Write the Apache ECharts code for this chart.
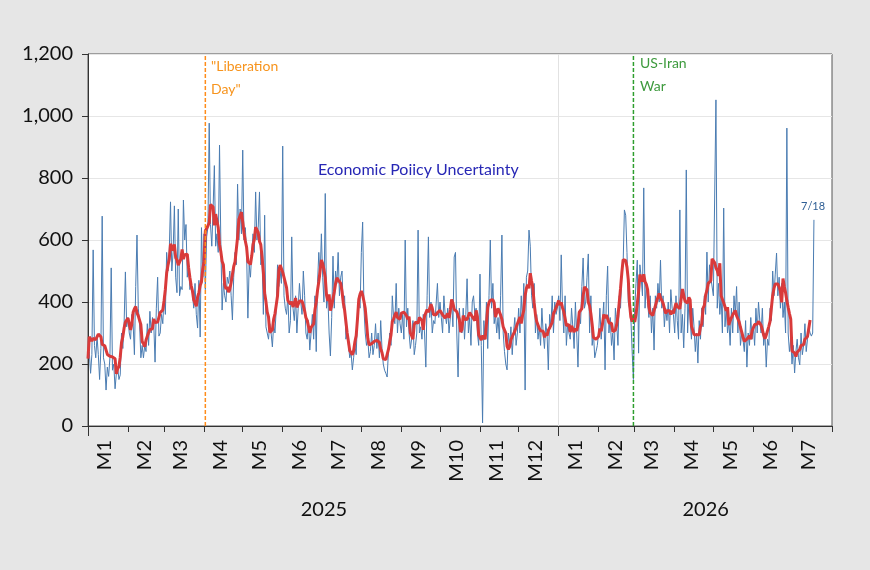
<!DOCTYPE html>
<html>
<head>
<meta charset="utf-8">
<script src="https://cdn.jsdelivr.net/npm/echarts@6/dist/echarts.min.js"></script>
<style>
html,body{margin:0;padding:0;background:#e6e6e6;}
#chart{width:870px;height:570px;}
</style>
</head>
<body>
<div id="chart"></div>
<script>
// daily EPU index
var jan25 = [230,240,170,230,568,260,220,290,230,150,250,677,220,200,116,190,160,220,510,180,200,120,170,190,150,165,300,250,330,497,320];
var feb25 = [350,300,280,360,330,230,450,616,380,330,220,260,220,260,240,330,260,370,300,350,330,206,380,480,290,300,360,330];
var mar25 = [420,360,560,500,560,723,500,560,710,480,430,700,420,450,440,729,600,650,480,520,440,460,430,380,460,360,316,470,287,640,480];
var apr25 = [620,440,610,640,977,650,580,700,840,580,620,560,906,600,374,460,420,400,480,460,500,420,342,480,560,520,780,600,700,620];
var may25 = [890,600,640,560,348,520,480,560,620,560,755,600,640,755,520,540,360,680,320,300,280,330,300,255,330,300,380,520,450,500,460];
var jun25 = [903,420,380,360,420,300,340,610,380,340,420,300,380,460,400,360,500,420,300,280,340,245,300,360,280,420,240,460,560,480];
var jul25 = [620,480,400,750,380,420,300,226,350,548,380,500,460,560,420,480,500,380,420,280,300,260,220,240,181,220,260,230,350,420,380];
var aug25 = [560,658,380,300,260,280,220,240,300,230,260,330,250,300,220,340,250,200,180,170,158,240,300,260,420,350,330,460,300,380,330];
var sep25 = [300,360,280,600,320,380,300,250,280,340,230,260,300,632,300,320,280,360,300,190,420,610,350,400,300,340,330,330,460,350];
var oct25 = [400,350,300,420,360,330,380,300,350,400,320,545,560,300,158,380,320,300,380,280,360,475,300,350,260,400,420,360,380,300,260];
var nov25 = [490,260,10,340,280,400,250,420,600,380,460,330,360,300,350,280,420,616,300,240,200,181,300,260,320,230,300,350,260,300];
var dec25 = [380,300,420,340,460,116,480,500,632,580,420,380,460,300,360,280,320,260,380,300,250,330,300,181,360,320,420,300,400,360,380];
var jan26 = [420,340,552,380,300,420,260,330,300,280,380,320,250,400,300,190,360,330,450,542,380,400,480,555,300,420,260,300,220,240,260];
var feb26 = [300,380,280,340,400,181,420,516,300,350,260,300,213,380,330,260,420,380,500,520,697,680,560,400,380,350,240,150];
var mar26 = [380,460,535,235,520,480,420,768,380,460,400,350,420,300,380,245,420,380,460,400,535,380,420,320,380,340,400,300,440,380,360];
var apr26 = [300,420,340,280,697,300,360,252,380,826,300,400,340,280,380,320,240,300,203,340,280,380,320,420,360,561,400,520,480,480];
var may26 = [420,420,1052,380,460,360,420,300,703,320,380,300,340,260,380,300,420,360,450,300,400,260,300,280,240,340,190,300,260,350,280];
var jun26 = [320,260,380,300,400,340,300,380,260,300,190,280,260,380,340,500,420,490,558,420,480,380,460,350,400,300,961,300,240,280];
var jul26 = [200,260,171,240,280,220,197,300,230,260,330,240,280,320,300,290,300,665];

var yearLabels = ['2025', '2026'];
var yearLabelDays = ['2025-07-03', '2026-04-25'];
var liberationDay = '2025-04-02';
var iranWar = '2026-02-28';

var epu = [].concat(jan25, feb25, mar25, apr25, may25, jun25, jul25, aug25, sep25, oct25, nov25, dec25,
    jan26, feb26, mar26, apr26, may26, jun26, jul26);

// axis runs Jan 1 2025 .. Aug 1 2026
var dates = [];
for (var i = 0; i <= 577; i++) {
    dates.push(new Date(Date.UTC(2025, 0, 1 + i)).toISOString().slice(0, 10));
}

// 7 day centred moving average
var ma = [];
for (var i = 0; i < epu.length; i++) {
    if (i + 3 >= epu.length) { ma.push(null); continue; }
    var s = 0, n = 0;
    for (var k = i - 3; k <= i + 3; k++) {
        if (k >= 0) { s += epu[k]; n++; }
    }
    ma.push(Math.round(s / n * 10) / 10);
}

var Y_MAX = 1200;

// vertical dashed event line spanning the whole value axis
function eventSeries(name, day, color) {
    return {
        name: name,
        type: 'line',
        data: [[day, 0], [day, Y_MAX]],
        showSymbol: false,
        silent: true,
        lineStyle: { color: color, type: [4, 2], width: 1.5 },
        itemStyle: { color: color },
        z: 4
    };
}

var chart = echarts.init(document.getElementById('chart'));
var option = {
    backgroundColor: '#e6e6e6',
    animation: false,
    textStyle: { fontFamily: 'Lato' },
    grid: { left: 88, right: 38, top: 54, bottom: 144, show: true, backgroundColor: '#fff', borderColor: '#555', borderWidth: 1 },
    xAxis: [{
        type: 'category',
        data: dates,
        boundaryGap: false,
        axisLine: { lineStyle: { color: '#333' } },
        axisTick: { interval: function (i, v) { return v.slice(8) === '01'; }, length: 6, lineStyle: { color: '#333' } },
        axisLabel: {
            interval: function (i, v) { return v.slice(8) === '14'; },
            rotate: 90, margin: 14, fontSize: 20, color: '#111',
            formatter: function (v) { return 'M' + parseInt(v.slice(5, 7), 10); }
        },
        splitLine: { show: true, interval: function (i, v) { return v === '2026-01-01'; }, lineStyle: { color: '#e2e2e2' } }
    }, {
        type: 'category',
        data: dates,
        boundaryGap: false,
        position: 'bottom',
        axisLine: { show: false },
        axisTick: { interval: function (i, v) { return v.slice(5) === '01-01'; }, length: 10, lineStyle: { color: '#333' } },
        axisLabel: {
            interval: function (i, v) { return yearLabelDays.indexOf(v) >= 0; },
            margin: 74, fontSize: 20, color: '#111',
            formatter: function (v) { return yearLabels[yearLabelDays.indexOf(v)]; }
        },
        splitLine: { show: false }
    }],
    yAxis: {
        type: 'value',
        min: 0, max: Y_MAX, interval: 200,
        axisLine: { show: true, lineStyle: { color: '#333' } },
        axisTick: { show: true, length: 6, lineStyle: { color: '#333' } },
        axisLabel: { fontSize: 20, color: '#111', margin: 15, formatter: function (v) { return v.toLocaleString('en-US'); } },
        splitLine: { lineStyle: { color: '#e6e6e6' } }
    },
    series: [{
        name: 'EPU',
        type: 'line',
        data: epu,
        showSymbol: false,
        lineStyle: { color: '#4a7cb2', width: 1 },
        itemStyle: { color: '#4a7cb2' },
        z: 2
    }, {
        name: 'MA',
        type: 'line',
        data: ma,
        showSymbol: false,
        lineStyle: { color: '#d93a3a', width: 3 },
        itemStyle: { color: '#d93a3a' },
        z: 3
    },
        eventSeries('Liberation Day', liberationDay, '#ff8c1a'),
        eventSeries('US-Iran War', iranWar, '#2e9e2e')
    ],
    graphic: [
        { type: 'text', left: 211, top: 59, style: { text: '"Liberation', fill: '#f7941d', font: '14px Lato' } },
        { type: 'text', left: 211, top: 82, style: { text: 'Day"', fill: '#f7941d', font: '14px Lato' } },
        { type: 'text', left: 640, top: 56, style: { text: 'US-Iran', fill: '#3d9a3d', font: '14px Lato' } },
        { type: 'text', left: 640, top: 79, style: { text: 'War', fill: '#3d9a3d', font: '14px Lato' } },
        { type: 'text', left: 318, top: 162, style: { text: 'Economic Poiicy Uncertainty', fill: '#2727b5', font: '16px Lato' } },
        { type: 'text', left: 801, top: 201, style: { text: '7/18', fill: '#2f5f95', font: '11px Lato' } }
    ]
};
chart.setOption(option);
</script>
</body>
</html>
